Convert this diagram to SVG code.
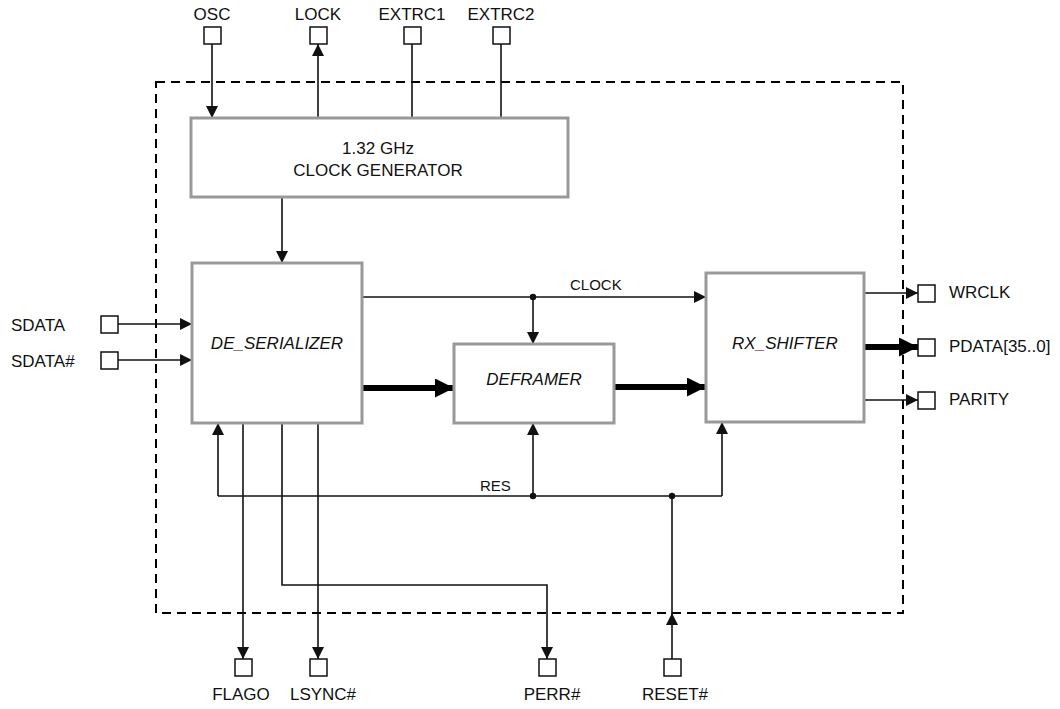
<svg xmlns="http://www.w3.org/2000/svg" width="1060" height="709" viewBox="0 0 1060 709">
<defs>
<marker id="arr" viewBox="0 0 10 10" refX="10" refY="5" markerWidth="12" markerHeight="12" markerUnits="userSpaceOnUse" orient="auto"><path d="M0,0 L10,5 L0,10 z" fill="#111"/></marker>
<marker id="arrT" viewBox="0 0 10 10" refX="10" refY="5" markerWidth="19" markerHeight="19" markerUnits="userSpaceOnUse" orient="auto"><path d="M0,0 L10,5 L0,10 z" fill="#000"/></marker>
<style>
.box{fill:#fff;stroke:#999;stroke-width:3}
.pin{fill:#fff;stroke:#111;stroke-width:1.5}
.w{fill:none;stroke:#111;stroke-width:1.6}
.wa{fill:none;stroke:#111;stroke-width:1.6;marker-end:url(#arr)}
.bus{fill:none;stroke:#000;stroke-width:6;marker-end:url(#arrT)}
.t{font-family:"Liberation Sans",Arial,sans-serif;font-size:17px;fill:#111}
.c{text-anchor:middle}
.i{font-style:italic}
.s{font-size:15px}
.dot{fill:#111}
</style>
</defs>
<rect id="boundary" x="156" y="82" width="747" height="531" fill="none" stroke="#000" stroke-width="2" stroke-dasharray="9,6"/>

<g id="connectors">
<line class="wa" x1="212" y1="44" x2="212" y2="118"/>
<line class="wa" x1="318" y1="118" x2="318" y2="44"/>
<line class="w" x1="412" y1="44" x2="412" y2="118"/>
<line class="w" x1="501" y1="44" x2="501" y2="118"/>
<line class="wa" x1="282" y1="197" x2="282" y2="263"/>
<line class="wa" x1="118" y1="324" x2="192" y2="324"/>
<line class="wa" x1="118" y1="360" x2="192" y2="360"/>
<line class="wa" x1="362" y1="297" x2="706" y2="297"/>
<line class="wa" x1="533" y1="297" x2="533" y2="344"/>
<circle class="dot" cx="533" cy="297" r="3.2"/>
<text class="t s" x="570" y="290">CLOCK</text>
<line class="bus" x1="362" y1="388" x2="454" y2="388"/>
<line class="bus" x1="614" y1="387" x2="706" y2="387"/>
<line class="wa" x1="864" y1="293" x2="918" y2="293"/>
<line class="bus" x1="864" y1="347" x2="918" y2="347"/>
<line class="wa" x1="864" y1="400" x2="918" y2="400"/>
<polyline class="wa" points="218,496 218,423"/>
<line class="w" x1="218" y1="496" x2="722" y2="496"/>
<line class="wa" x1="722" y1="496" x2="722" y2="422"/>
<line class="wa" x1="533" y1="496" x2="533" y2="423"/>
<circle class="dot" cx="533" cy="496" r="3.2"/>
<circle class="dot" cx="672" cy="496" r="3.2"/>
<text class="t s" x="480" y="491">RES</text>
<line class="wa" x1="672" y1="659" x2="672" y2="613"/>
<line class="w" x1="672" y1="614" x2="672" y2="496"/>
<line class="wa" x1="243" y1="423" x2="243" y2="659"/>
<line class="wa" x1="318" y1="423" x2="318" y2="659"/>
<polyline class="wa" points="282,423 282,585 547,585 547,659"/>
</g>

<g id="clock-generator">
<rect class="box" x="191" y="118" width="377" height="79"/>
<text class="t c" x="378" y="154">1.32 GHz</text>
<text class="t c" x="378" y="176">CLOCK GENERATOR</text>
</g>
<g id="de-serializer">
<rect class="box" x="192" y="263" width="170" height="160"/>
<text class="t c i" x="277" y="349">DE_SERIALIZER</text>
</g>
<g id="deframer">
<rect class="box" x="454" y="344" width="160" height="79"/>
<text class="t c i" x="534" y="385">DEFRAMER</text>
</g>
<g id="rx-shifter">
<rect class="box" x="706" y="273" width="158" height="149"/>
<text class="t c i" x="785" y="349">RX_SHIFTER</text>
</g>

<g id="pin-osc"><rect class="pin" x="204" y="27" width="17" height="17"/><text class="t c" x="212" y="20">OSC</text></g>
<g id="pin-lock"><rect class="pin" x="310" y="27" width="17" height="17"/><text class="t c" x="318" y="20">LOCK</text></g>
<g id="pin-extrc1"><rect class="pin" x="404" y="27" width="17" height="17"/><text class="t c" x="412" y="20">EXTRC1</text></g>
<g id="pin-extrc2"><rect class="pin" x="493" y="27" width="17" height="17"/><text class="t c" x="501" y="20">EXTRC2</text></g>
<g id="pin-sdata"><rect class="pin" x="101" y="316" width="17" height="17"/><text class="t" x="11" y="331">SDATA</text></g>
<g id="pin-sdata-n"><rect class="pin" x="101" y="352" width="17" height="17"/><text class="t" x="11" y="367">SDATA#</text></g>
<g id="pin-wrclk"><rect class="pin" x="918" y="285" width="17" height="17"/><text class="t" x="949" y="298">WRCLK</text></g>
<g id="pin-pdata"><rect class="pin" x="918" y="339" width="17" height="17"/><text class="t" x="949" y="352">PDATA[35..0]</text></g>
<g id="pin-parity"><rect class="pin" x="918" y="392" width="17" height="17"/><text class="t" x="949" y="405">PARITY</text></g>
<g id="pin-flago"><rect class="pin" x="235" y="659" width="17" height="17"/><text class="t c" x="241" y="700">FLAGO</text></g>
<g id="pin-lsync"><rect class="pin" x="310" y="659" width="17" height="17"/><text class="t c" x="323" y="700">LSYNC#</text></g>
<g id="pin-perr"><rect class="pin" x="539" y="659" width="17" height="17"/><text class="t c" x="552" y="700">PERR#</text></g>
<g id="pin-reset"><rect class="pin" x="664" y="659" width="17" height="17"/><text class="t c" x="675" y="700">RESET#</text></g>
</svg>
